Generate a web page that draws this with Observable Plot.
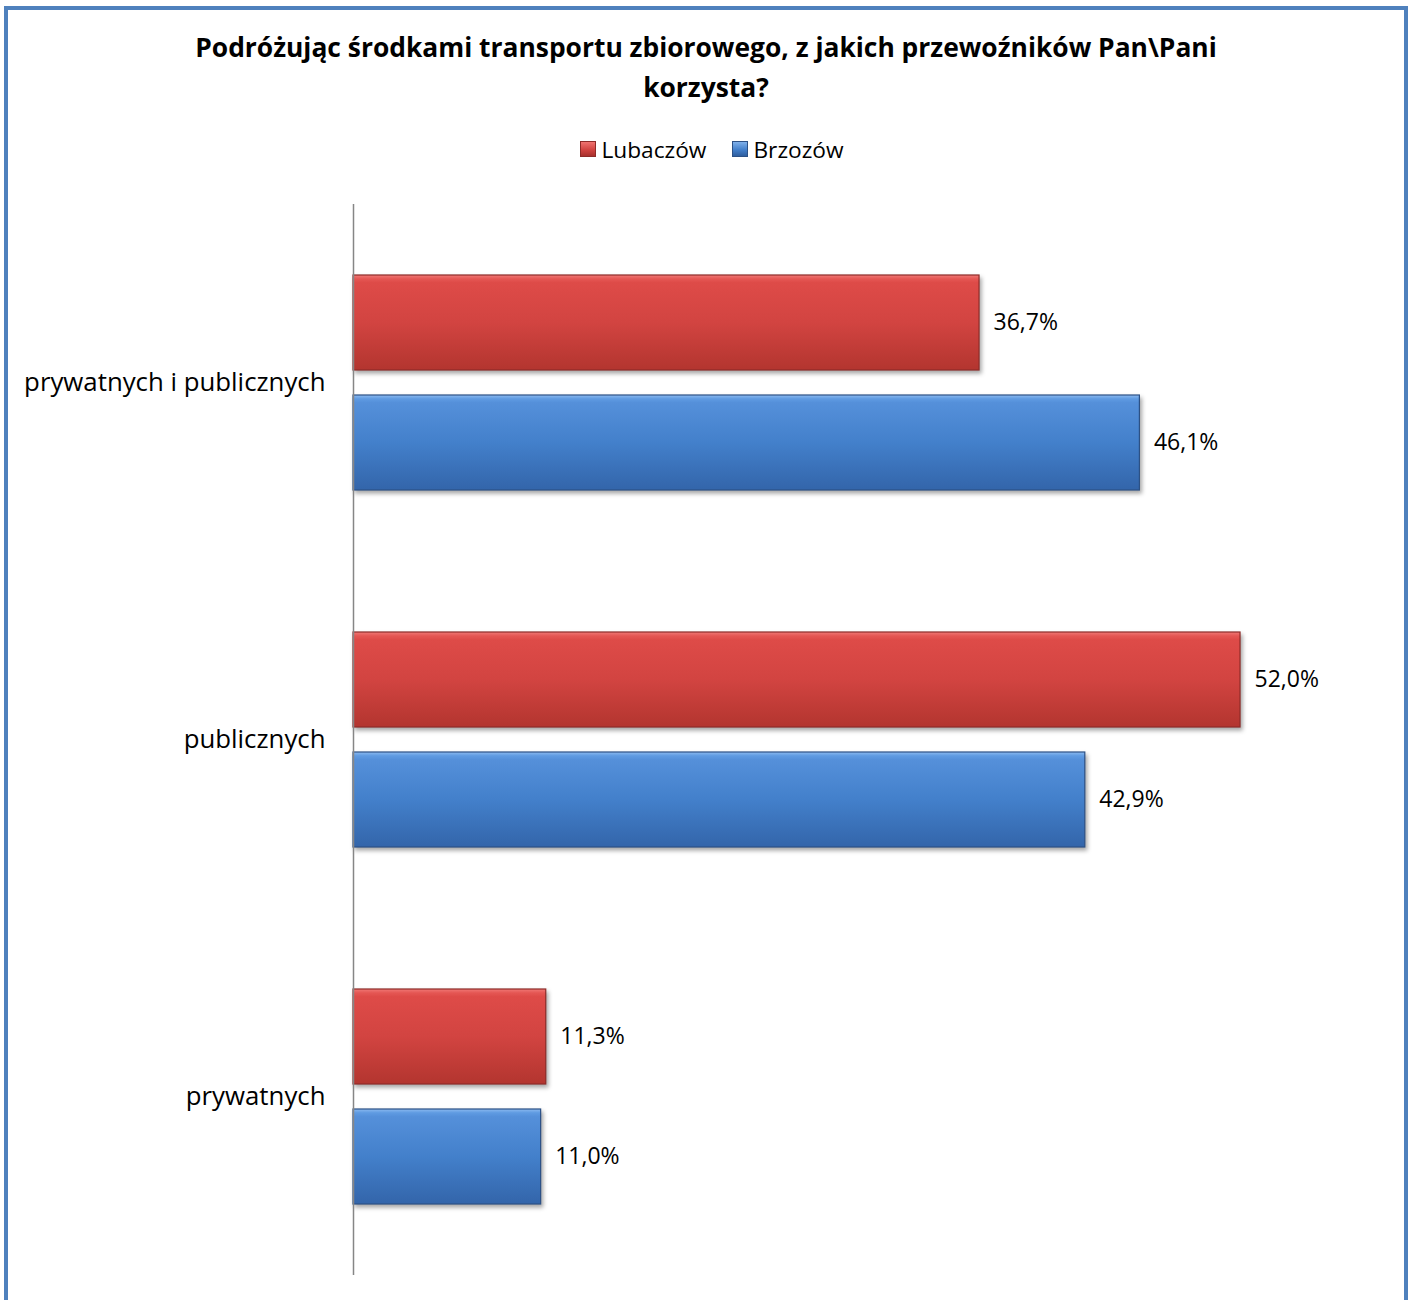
<!DOCTYPE html>
<html><head><meta charset="utf-8">
<script src="https://cdn.jsdelivr.net/npm/d3@7"></script>
<script src="https://cdn.jsdelivr.net/npm/@observablehq/plot@0.6"></script>
<style>
html,body{margin:0;padding:0;background:#fff;}
body{width:1412px;height:1300px;overflow:hidden;position:relative;font-family:"Open Sans",sans-serif;color:#000;}
#frame{position:absolute;left:4px;top:6px;width:1404px;height:1330px;border:4px solid #4f81bd;box-sizing:border-box;}
#title{position:absolute;left:0;width:1412px;top:27px;text-align:center;font-weight:bold;font-size:26.4px;line-height:40px;}
#legend{position:absolute;left:6px;width:1412px;top:134px;height:30px;display:flex;justify-content:center;align-items:center;font-size:22.7px;}
.item{display:flex;align-items:center;margin:0 13px;}
.sw{width:16px;height:16px;box-sizing:border-box;margin-right:5px;}
#chart{position:absolute;left:0;top:180px;}
</style></head>
<body>
<div id="frame"></div>
<div id="title">Podróżując środkami transportu zbiorowego, z jakich przewoźników Pan\Pani<br>korzysta?</div>
<div id="legend"></div>
<div id="chart"></div>
<script>
const categories = ["prywatnych i publicznych", "publicznych", "prywatnych"];
const series = ["Lubaczów", "Brzozów"];
const lubaczow = [36.7, 52.0, 11.3];
const brzozow = [46.1, 42.9, 11.0];

const style = {
  fills: ["url(#gradRed)", "url(#gradBlue)"],
  strokes: ["#8e2b28", "#2c5186"],
  swatch: ["linear-gradient(#f07370,#d24441 55%,#a8302d)", "linear-gradient(#7fb0ea,#4380cb 55%,#2f5e9f)"]
};

const data = categories.flatMap((c, i) => [
  {category: c, series: series[0], value: lubaczow[i]},
  {category: c, series: series[1], value: brzozow[i]}
]);
const fmt = v => d3.format(".1f")(v).replace(".", ",") + "%";

// legend
const legend = document.getElementById("legend");
series.forEach((s, i) => {
  const it = document.createElement("div");
  it.className = "item";
  const sw = document.createElement("span");
  sw.className = "sw";
  sw.style.background = style.swatch[i];
  sw.style.border = "1px solid " + style.strokes[i];
  it.appendChild(sw);
  const t = document.createElement("span");
  t.textContent = s;
  it.appendChild(t);
  legend.appendChild(it);
});

const chart = Plot.plot({
  width: 1412, height: 1120,
  marginLeft: 353, marginRight: 35.5, marginTop: 23, marginBottom: 25,
  x: {domain: [0, 60], axis: null},
  y: {domain: series, axis: null, paddingInner: 0.208, paddingOuter: 0.59},
  fy: {domain: categories, padding: 0, axis: null},
  style: {fontFamily: "'Open Sans',sans-serif", background: "transparent", color: "#000", overflow: "visible"},
  marks: [
    ...series.map((s, i) => Plot.barX(data.filter(d => d.series === s), {
      x: "value", y: "series", fy: "category",
      fill: style.fills[i], stroke: style.strokes[i], strokeWidth: 1.2,
      imageFilter: "drop-shadow(2px 3px 2px rgba(0,0,0,0.35))"
    })),
    Plot.ruleX([0], {stroke: "#868686", strokeWidth: 1.5}),
    Plot.text(data, {x: "value", y: "series", fy: "category", text: d => fmt(d.value),
      dx: 14, textAnchor: "start", fontSize: 23, fill: "#000"}),
    Plot.axisFy({anchor: "left", tickSize: 0, tickPadding: 28, fontSize: 25.8, label: null, fill: "#000"})
  ]
});

const defs = d3.select(chart).insert("defs", ":first-child");
function grad(id, stops) {
  const g = defs.append("linearGradient").attr("id", id).attr("x1", 0).attr("y1", 0).attr("x2", 0).attr("y2", 1);
  stops.forEach(([o, c]) => g.append("stop").attr("offset", o).attr("stop-color", c));
}
grad("gradRed", [[0, "#f07a77"], [0.04, "#e55754"], [0.08, "#de4b48"], [0.5, "#d24441"], [1, "#b3352f"]]);
grad("gradBlue", [[0, "#8dbbf0"], [0.04, "#5f9be2"], [0.08, "#5590da"], [0.5, "#4380cb"], [1, "#3365aa"]]);

document.getElementById("chart").appendChild(chart);
</script>
</body></html>
